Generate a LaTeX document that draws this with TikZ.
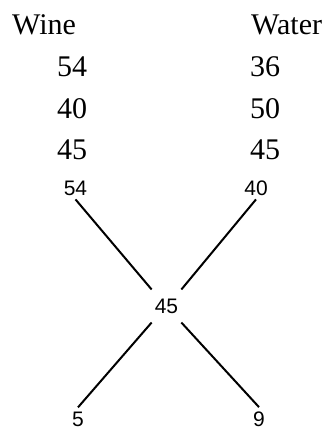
\documentclass[tikz,border=0pt]{standalone}
\usepackage{fontspec}
\setmainfont{Liberation Serif}
\setsansfont{Liberation Sans}

\begin{document}
\begin{tikzpicture}[x=1pt, y=-1pt,
   big/.style={font=\fontsize{30}{36}\selectfont\rmfamily, anchor=base west, inner sep=0pt},
   small/.style={font=\fontsize{21}{25}\selectfont\sffamily, inner xsep=2pt, inner ysep=4pt},
   mid/.style={small, inner xsep=3pt, inner ysep=9pt},
   link/.style={line width=2pt}]

  \useasboundingbox (0,0) rectangle (328,430);

  % ===== Tableau : vin et eau =====
  \node[big] (wine)  at (12,35)  {Wine};
  \node[big] (water) at (251,35) {Water};
  \node[big] (w1) at (57,77)   {54};
  \node[big] (w2) at (57,119)  {40};
  \node[big] (w3) at (57,160)  {45};
  \node[big] (a1) at (250,77)  {36};
  \node[big] (a2) at (250,119) {50};
  \node[big] (a3) at (250,160) {45};

  % ===== Croix =====
  \node[small, anchor=base] (s54) at (75.5,195) {54};
  \node[small, anchor=base] (s40) at (256,195)  {40};
  \node[mid] (c45) at (166.5,306) {45};
  \node[small, anchor=base] (s5) at (78,426)    {5};
  \node[small, anchor=base] (s9) at (259,426)   {9};

  \draw[link] (s54.south) -- (c45.north west);
  \draw[link] (s40.south) -- (c45.north east);
  \draw[link] (c45.south west) -- (s5.north);
  \draw[link] (c45.south east) -- (s9.north);

\end{tikzpicture}
\end{document}
